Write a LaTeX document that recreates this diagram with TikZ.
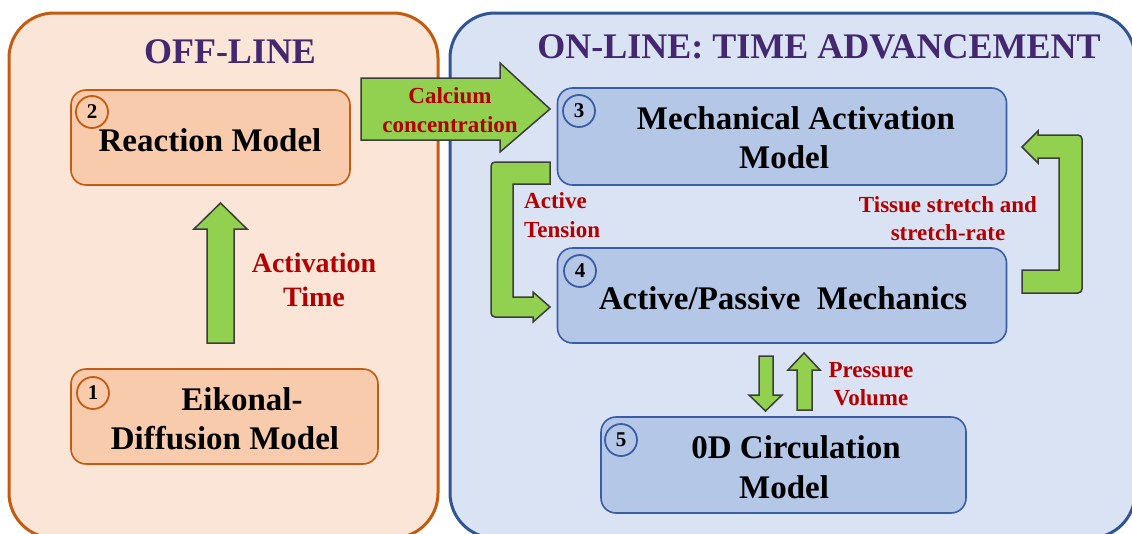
\documentclass[tikz,border=0pt]{standalone}
\usepackage{fontspec}
\setmainfont{Liberation Serif}
\definecolor{offfill}{HTML}{FBE5D6}
\definecolor{offborder}{HTML}{C55A11}
\definecolor{orfill}{HTML}{F8CBAD}
\definecolor{onfill}{HTML}{DAE3F3}
\definecolor{onborder}{HTML}{2F5597}
\definecolor{bluefill}{HTML}{B4C7E7}
\definecolor{blueborder}{HTML}{3A5DA8}
\definecolor{ttlpurple}{HTML}{43286F}
\definecolor{lblred}{HTML}{B20000}
\definecolor{arrgreen}{HTML}{92D050}
\definecolor{arrborder}{HTML}{3C3C3C}
\begin{document}
\begin{tikzpicture}[x=1pt,y=-1pt,
  panel/.style={line width=3pt, rounded corners=45pt},
  obox/.style={rectangle, draw=offborder, fill=orfill, line width=1.6pt, rounded corners=15pt, inner sep=0pt},
  bbox/.style={rectangle, draw=blueborder, fill=bluefill, line width=1.6pt, rounded corners=15pt, inner sep=0pt},
  boxtext/.style={font=\fontsize{33}{39}\selectfont\bfseries, align=center, inner sep=0pt},
  title/.style={font=\fontsize{36}{40}\selectfont\bfseries, text=ttlpurple, inner sep=0pt},
  lbl/.style={text=lblred, inner sep=0pt},
  num/.style={circle, line width=1.8pt, minimum size=32pt, inner sep=0pt, font=\fontsize{21}{21}\selectfont\bfseries},
  fat/.style={fill=arrgreen, draw=arrborder, line width=1.5pt, line join=miter}]
\useasboundingbox (0,0) rectangle (1132,533);
% panels
\begin{scope}
\clip (0,0) rectangle (1132,533);
\draw[panel, draw=offborder, fill=offfill] (9,13) rectangle (438,538);
\draw[panel, draw=onborder, fill=onfill] (450,13) rectangle (1135,538);
\end{scope}
% titles
\node[title] (offt) at (230,52) {OFF-LINE};
\node[title] (ont) at (819,47) {ON-LINE: TIME ADVANCEMENT};
% boxes
\node[obox, minimum width=279pt, minimum height=95pt] (b2) at (210.5,137.5) {};
\node[obox, minimum width=307pt, minimum height=95pt] (b1) at (224.5,416.5) {};
\node[bbox, minimum width=449pt, minimum height=97pt] (b3) at (782,136.5) {};
\node[bbox, minimum width=449pt, minimum height=95pt] (b4) at (782,295.5) {};
\node[bbox, minimum width=365pt, minimum height=96pt] (b5) at (783.5,465) {};
% box texts
\node[boxtext] (t2) at (210,140) {Reaction Model};
\node[boxtext] (t1) at (225,418.5) {\hspace*{34pt}Eikonal-\\Diffusion Model};
\node[boxtext] (t3) at (790,138) {\hspace*{12pt}Mechanical Activation\\Model\hspace*{12pt}};
\node[boxtext] (t4) at (783,298) {Active/Passive\ \ Mechanics};
\node[boxtext, font=\fontsize{33}{40}\selectfont\bfseries] (t5) at (790,467) {\hspace*{12pt}0D Circulation\\Model\hspace*{12pt}};
% numbers
\node[num, draw=offborder] (n2) at (92,112) {2};
\node[num, draw=offborder] (n1) at (93,393) {1};
\node[num, draw=blueborder] (n3) at (579,111) {3};
\node[num, draw=blueborder] (n4) at (580,271) {4};
\node[num, draw=blueborder] (n5) at (621,440) {5};
% fat arrows
\draw[fat] (207,343) -- (207,229) -- (194,229) -- (220.5,203) -- (247,229) -- (234,229) -- (234,343) -- cycle;
\draw[fat] (361,78) -- (500,78) -- (500,63) -- (550,109) -- (500,152) -- (500,140) -- (361,140) -- cycle;
\draw[fat] (550,184) -- (513,184) -- (513,297) -- (533,297) -- (533,292) -- (550,307) -- (533,322) -- (533,317) [rounded corners=4pt] -- (491,317) -- (491,162) [sharp corners] -- (550,162) -- cycle;
\draw[fat] (1022,270) -- (1059,270) -- (1059,158) -- (1038,158) -- (1038,163) -- (1022,147) -- (1038,131) -- (1038,135) [rounded corners=4pt] -- (1082,135) -- (1082,293) [sharp corners] -- (1022,293) -- cycle;
\draw[fat] (759,356) -- (773,356) -- (773,395) -- (782,395) -- (765.5,411) -- (749,395) -- (759,395) -- cycle;
\draw[fat] (797,410) -- (797,370) -- (788,370) -- (804,353) -- (820,370) -- (812,370) -- (812,410) -- cycle;
% labels
\node[lbl, align=center, font=\fontsize{28}{34}\selectfont\bfseries] (l1) at (314,280) {Activation\\Time};
\node[lbl, align=center, font=\fontsize{23}{29}\selectfont\bfseries] (l2) at (450,110) {Calcium\\concentration};
\node[lbl, align=left, anchor=west, font=\fontsize{23}{29}\selectfont\bfseries] (l3) at (524,215) {Active\\Tension};
\node[lbl, align=center, font=\fontsize{23}{28}\selectfont\bfseries] (l4) at (948,219) {Tissue stretch and\\stretch-rate};
\node[lbl, align=center, font=\fontsize{23}{28}\selectfont\bfseries] (l5) at (871,384) {Pressure\\Volume};
\end{tikzpicture}
\end{document}
